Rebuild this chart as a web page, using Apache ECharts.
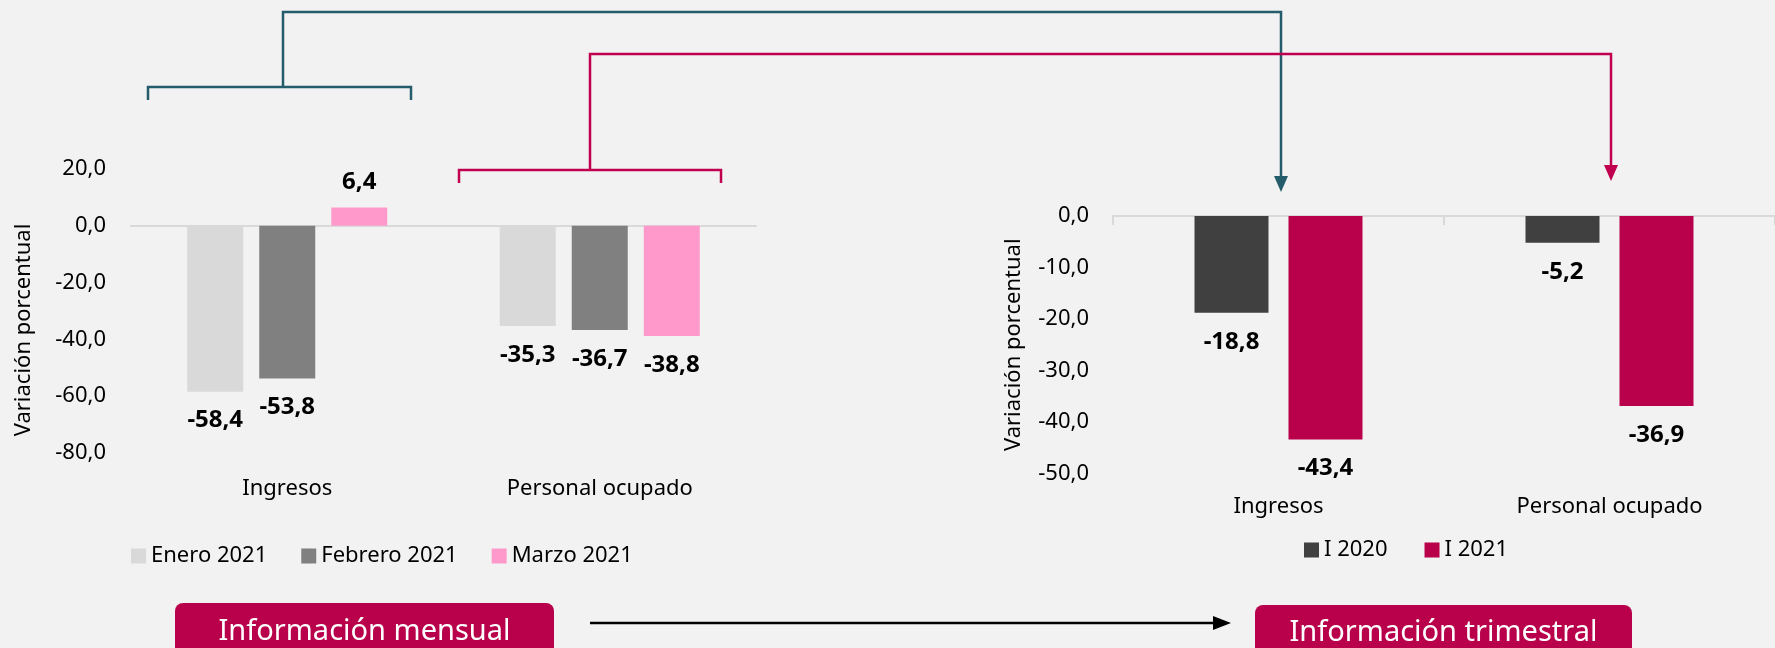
<!DOCTYPE html>
<html>
<head>
<meta charset="utf-8">
<script src="https://cdn.jsdelivr.net/npm/echarts@6/dist/echarts.min.js"></script>
<style>
html,body{margin:0;padding:0;background:#f2f2f2;}
#main{width:1775px;height:648px;}
</style>
</head>
<body>
<div id="main"></div>
<script>
// ---- Data ----
const categories = ['Ingresos', 'Personal ocupado'];
const monthlySeriesNames = ['Enero 2021', 'Febrero 2021', 'Marzo 2021'];
const enero2021 = [-58.4, -35.3];
const febrero2021 = [-53.8, -36.7];
const marzo2021 = [6.4, -38.8];
const quarterlySeriesNames = ['I 2020', 'I 2021'];
const i2020 = [-18.8, -5.2];
const i2021 = [-43.4, -36.9];
const yAxisName = 'Variación porcentual';
const monthlyBoxText = 'Información mensual';
const quarterlyBoxText = 'Información trimestral';

// ---- Styles ----
const FONT = 'Noto Sans';
const fmt = v => Number(v).toFixed(1).replace('.', ',');
const monthlyColors = ['#d9d9d9', '#808080', '#ff99cc'];
const quarterlyColors = ['#404040', '#b8004b'];
const TEAL = '#245c6b';
const MAGENTA = '#c0004f';

function items(values) {
  return values.map(v => ({
    value: v,
    label: v >= 0 ? { position: 'top', distance: 13 } : { position: 'bottom', distance: 17 }
  }));
}
const labelStyle = {
  show: true, color: '#000', fontFamily: FONT, fontWeight: 'bold', fontSize: 24,
  formatter: p => fmt(p.value)
};

const monthlyData = [enero2021, febrero2021, marzo2021];
const quarterlyData = [i2020, i2021];

const series = [];
monthlyData.forEach((vals, i) => {
  series.push({
    name: monthlySeriesNames[i], type: 'bar', xAxisIndex: 0, yAxisIndex: 0,
    data: items(vals), barWidth: 56, barGap: '28.6%',
    itemStyle: { color: monthlyColors[i] }, label: labelStyle, silent: true
  });
});
quarterlyData.forEach((vals, i) => {
  series.push({
    name: quarterlySeriesNames[i], type: 'bar', xAxisIndex: 2, yAxisIndex: 1,
    data: items(vals), barWidth: 74, barGap: '27%',
    itemStyle: { color: quarterlyColors[i] }, label: labelStyle, silent: true
  });
});

const tickLabel = { color: '#000', fontFamily: FONT, fontSize: 22 };

const chart = echarts.init(document.getElementById('main'), null, { renderer: 'canvas' });
chart.setOption({
  backgroundColor: '#f2f2f2',
  animation: false,
  textStyle: { fontFamily: FONT },
  grid: [
    { left: 131, top: 169, width: 625, height: 284 },
    { left: 1113, top: 216, width: 662, height: 257.5 }
  ],
  legend: [
    {
      data: monthlySeriesNames, left: 131, top: 543, padding: 0,
      icon: 'rect', itemWidth: 15, itemHeight: 15, itemGap: 34,
      textStyle: { color: '#000', fontFamily: FONT, fontSize: 22, lineHeight: 26 }
    },
    {
      data: quarterlySeriesNames, left: 1304, top: 537, padding: 0,
      icon: 'rect', itemWidth: 15, itemHeight: 15, itemGap: 37,
      textStyle: { color: '#000', fontFamily: FONT, fontSize: 22, lineHeight: 26 }
    }
  ],
  xAxis: [
    { // left labels
      type: 'category', gridIndex: 0, data: categories, position: 'bottom',
      axisLine: { show: false, onZero: false }, axisTick: { show: false },
      axisLabel: Object.assign({ margin: 25 }, tickLabel)
    },
    { // left zero line
      type: 'category', gridIndex: 0, data: categories, position: 'top',
      axisLine: { show: true, onZero: true, lineStyle: { color: '#d9d9d9', width: 2 } },
      axisTick: { show: false }, axisLabel: { show: false }
    },
    { // right labels
      type: 'category', gridIndex: 1, data: categories, position: 'bottom',
      axisLine: { show: false, onZero: false }, axisTick: { show: false },
      axisLabel: Object.assign({ margin: 22 }, tickLabel)
    },
    { // right zero line with ticks
      type: 'category', gridIndex: 1, data: categories, position: 'top',
      axisLine: { show: true, onZero: false, lineStyle: { color: '#d9d9d9', width: 2 } },
      axisTick: { show: true, inside: true, length: 9, lineStyle: { color: '#d9d9d9', width: 2 } },
      axisLabel: { show: false }
    }
  ],
  yAxis: [
    {
      type: 'value', gridIndex: 0, min: -80, max: 20, interval: 20,
      axisLine: { show: false }, axisTick: { show: false }, splitLine: { show: false },
      axisLabel: Object.assign({ margin: 25, formatter: fmt }, tickLabel),
      name: yAxisName, nameLocation: 'middle', nameGap: 96,
      nameTextStyle: { color: '#000', fontFamily: FONT, fontSize: 22, padding: [0, 38, 0, 0] }
    },
    {
      type: 'value', gridIndex: 1, min: -50, max: 0, interval: 10,
      axisLine: { show: false }, axisTick: { show: false }, splitLine: { show: false },
      axisLabel: Object.assign({ margin: 24, formatter: fmt }, tickLabel),
      name: yAxisName, nameLocation: 'middle', nameGap: 88,
      nameTextStyle: { color: '#000', fontFamily: FONT, fontSize: 22 }
    }
  ],
  series: series,
  graphic: [
    // teal connector (monthly Ingresos -> quarterly Ingresos)
    { type: 'polyline', shape: { points: [[148, 100], [148, 87], [411, 87], [411, 100]] },
      style: { stroke: TEAL, lineWidth: 2.5, fill: null } },
    { type: 'polyline', shape: { points: [[283, 87], [283, 12], [1281, 12], [1281, 178]] },
      style: { stroke: TEAL, lineWidth: 2.5, fill: null } },
    { type: 'polygon', shape: { points: [[1274, 176], [1288, 176], [1281, 192]] },
      style: { fill: TEAL } },
    // magenta connector (monthly Personal -> quarterly Personal)
    { type: 'polyline', shape: { points: [[459, 183], [459, 170], [721, 170], [721, 183]] },
      style: { stroke: MAGENTA, lineWidth: 2.5, fill: null } },
    { type: 'polyline', shape: { points: [[590, 170], [590, 54], [1611, 54], [1611, 166]] },
      style: { stroke: MAGENTA, lineWidth: 2.5, fill: null } },
    { type: 'polygon', shape: { points: [[1604, 165], [1618, 165], [1611, 181]] },
      style: { fill: MAGENTA } },
    // bottom arrow
    { type: 'line', shape: { x1: 590, y1: 623, x2: 1216, y2: 623 },
      style: { stroke: '#000', lineWidth: 2.5 } },
    { type: 'polygon', shape: { points: [[1213, 616], [1231, 623], [1213, 630]] },
      style: { fill: '#000' } },
    // bottom boxes
    { type: 'rect', shape: { x: 175, y: 603, width: 379, height: 60, r: [8, 8, 0, 0] },
      style: { fill: '#b8004b' } },
    { type: 'text', x: 364.5, y: 632,
      style: { text: monthlyBoxText, fill: '#fff', font: '29px "Noto Sans"', align: 'center', verticalAlign: 'middle' } },
    { type: 'rect', shape: { x: 1255, y: 605, width: 377, height: 60, r: [8, 8, 0, 0] },
      style: { fill: '#b8004b' } },
    { type: 'text', x: 1443.5, y: 633,
      style: { text: quarterlyBoxText, fill: '#fff', font: '29px "Noto Sans"', align: 'center', verticalAlign: 'middle' } }
  ]
});
</script>
</body>
</html>
